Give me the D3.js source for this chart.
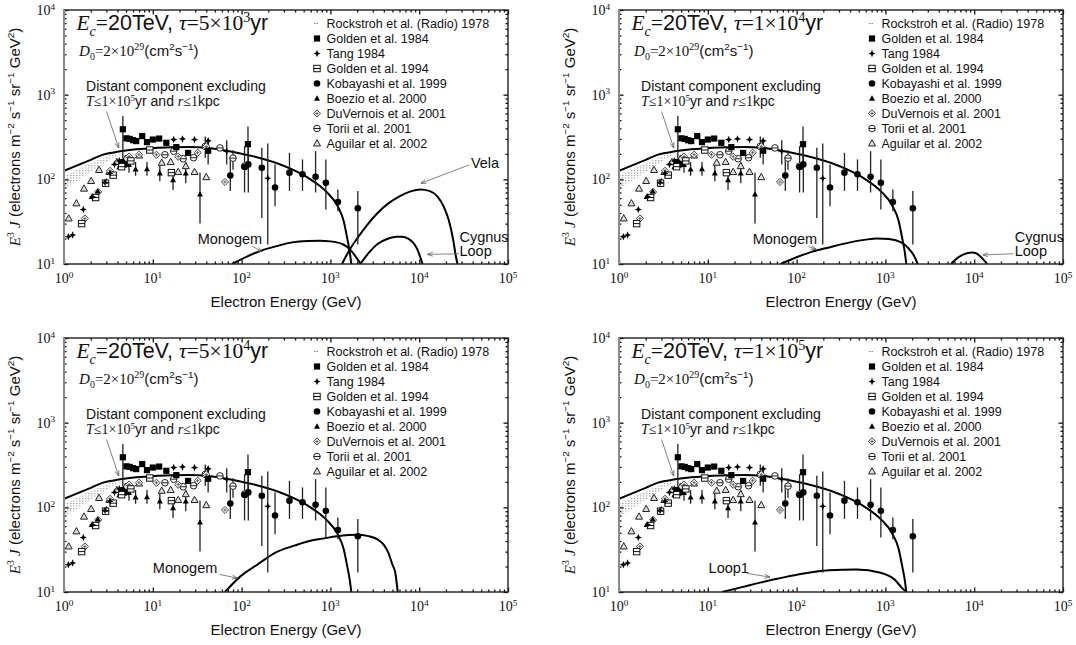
<!DOCTYPE html>
<html>
<head>
<meta charset="utf-8">
<script src="https://cdn.jsdelivr.net/npm/d3@7"></script>
<style>
  body { margin: 0; background: #fff; }
  svg text { font-family: "Liberation Sans", Arial, sans-serif; fill: #111; }
</style>
</head>
<body>
<svg id="chart" width="1076" height="645"></svg>
<script>
var SANS = '"Liberation Sans", Arial, sans-serif';
var SERIF = '"Liberation Serif", "Times New Roman", serif';

// axis decades
var xDecades = [1, 10, 100, 1000, 10000, 100000];
var yDecades = [10, 100, 1000, 10000];

// distant component (same in every panel)
var distantE = [1, 1.5, 2, 2.76, 4.3, 6.5, 10.5, 16, 25.6, 40, 62.5, 100, 152, 250, 371, 579, 905, 1183, 1413, 1549, 1650, 1720];
var distantF = [126, 150, 170, 196, 214, 226, 235, 239, 241, 236, 220, 200, 181, 155, 131, 102, 71, 50, 32, 20, 14, 10];

// Rockstroh radio band
var rockE  = [1, 1.5, 2, 2.5, 3, 3.5, 4];
var rockLo = [75, 100, 122, 142, 160, 177, 192];
var rockHi = [110, 135, 155, 172, 186, 198, 207];

// observations [E, F, lo, hi]
var golden84 = [[4.6, 390, 175, 560], [5.05, 305], [5.5, 300], [6.0, 290], [6.5, 283], [7.6, 324], [8.6, 275],
  [10, 295], [11.8, 303], [14.2, 270], [18.4, 240], [25, 205], [42, 218, 150, 300], [118, 260, 130, 420]];
var tang84 = [[1.12, 21], [1.25, 22], [1.65, 44], [2.1, 62], [2.9, 92], [3.3, 118], [3.7, 150], [4.2, 165],
  [17.2, 295], [21.6, 300], [29.5, 295], [42, 285], [68, 215, 150, 290], [197, 103, 17, 265]];
var golden94 = [[1.58, 30], [2.27, 61], [2.94, 90], [3.58, 112], [4.45, 141], [5.66, 165], [9.25, 222], [16.2, 120]];
var kobayashi99 = [[4.5, 160], [4.9, 150], [74.6, 111, 73, 180], [108, 140, 70, 246], [119, 150, 70, 246],
  [169, 137, 35, 236], [238, 80, 48, 150], [346, 120, 73, 206], [485, 115, 73, 172], [681, 107, 70, 215],
  [889, 91, 44, 172], [1214, 54, 42, 76], [2037, 45.6, 17, 73]];
var boezio00 = [[2.05, 62], [2.4, 72], [3.0, 95], [3.5, 110], [4.2, 140], [5.4, 148, 120, 180], [6.4, 131, 110, 160],
  [8.6, 132, 110, 160], [12, 118, 95, 150], [16.9, 98, 75, 130], [23.5, 118, 90, 160], [34, 66.5, 30, 120]];
var duvernois01 = [[1.72, 34.5], [2.42, 71], [3.3, 126], [5.4, 186], [7.0, 195], [11, 195], [19.3, 185], [32, 206], [40, 245], [65, 93]];
var torii01 = [[13.7, 195], [17.2, 215], [22, 175], [28.8, 180], [39, 245, 180, 320], [57, 235], [80, 178, 130, 220], [108, 143]];
var aguilar02 = [[1.13, 34.5], [1.38, 52], [1.68, 77.6], [2.02, 95.5], [2.48, 129], [3.24, 122], [3.95, 160], [4.93, 175],
  [7.0, 191], [12.6, 157], [15.9, 160], [19.3, 122], [23.5, 143], [29.5, 122], [40, 106]];

var legendNames = ["Rockstroh et al. (Radio) 1978", "Golden et al. 1984", "Tang 1984", "Golden et al. 1994",
  "Kobayashi et al. 1999", "Boezio et al. 2000", "DuVernois et al. 2001", "Torii et al. 2001", "Aguilar et al. 2002"];
var legendSymbols = ["dash", "square", "star", "sqline", "circle", "tri", "diamond", "cirline", "otri"];

// nearby sources per panel
var velaE1 = [1350, 1600, 2000, 2600, 3400, 4500, 6000, 8000, 10300, 13000, 16000, 19000, 21500, 24000, 26000, 27000];
var velaF1 = [10, 14, 20, 29, 40, 52, 63, 72, 76, 73, 63, 47, 33, 20, 12, 10];
var monoE1 = [78, 110, 167, 250, 370, 550, 760, 1000, 1400, 1700, 1950, 2200];
var monoF1 = [10, 12, 14.4, 16.3, 18, 18.7, 18.8, 18.5, 17, 14.5, 12, 10];
var cygE1 = [2170, 2700, 3400, 4500, 5500, 6400, 7500, 8500, 9500, 10300, 10900];
var cygF1 = [10, 13.5, 17.2, 20, 21, 21, 20, 18, 15, 12, 10];
var monoE2 = [66, 100, 150, 231, 400, 600, 807, 1100, 1507, 1800, 2100, 2313];
var monoF2 = [10, 12, 14, 15.7, 18, 19.4, 20, 19.7, 18, 15.5, 12.5, 10];
var cygE2 = [5500, 6500, 7500, 8500, 9400, 10500, 12000, 14000];
var cygF2 = [10, 11.8, 12.9, 13.5, 13.7, 13.4, 12, 10];
var monoE3 = [65, 97.6, 150, 238, 400, 579, 850, 1183, 1600, 2018, 2600, 3444, 4000, 4500, 5000, 5380, 5730];
var monoF3 = [10, 15.4, 21, 29, 35.5, 40, 43, 45.5, 47, 47.5, 46, 41.5, 36, 29, 21, 16.9, 10];
var loopE4 = [14.5, 25, 38.8, 60, 104, 231, 472, 883, 1260, 1535, 1723];
var loopF4 = [10, 11.5, 12.9, 14.3, 16.1, 18.1, 18.5, 16.9, 14.1, 11.2, 10];

var panelTau = [["5", "3"], ["1", "4"], ["5", "4"], ["1", "5"]];
var panelLeft = [64, 619, 64, 619];
var panelTop = [10, 10, 338, 338];

var panelSources = [
  [ {E: velaE1, F: velaF1}, {E: monoE1, F: monoF1}, {E: cygE1, F: cygF1} ],
  [ {E: monoE2, F: monoF2}, {E: cygE2, F: cygF2} ],
  [ {E: monoE3, F: monoF3} ],
  [ {E: loopE4, F: loopF4} ]
];
// labels: [text lines, textE, textF, arrowFromE, arrowFromF, arrowToE, arrowToF]
var panelLabels = [
  [ [["Vela"], 38200, 137, 36500, 148, 10500, 90],
    [["Monogem"], 32, 17.2, 133, 16.1, 169, 14],
    [["Cygnus", "Loop"], 28400, 18, 28000, 13.2, 12500, 13] ],
  [ [["Monogem"], 32, 17.2, 135, 16.1, 165, 15],
    [["Cygnus", "Loop"], 28600, 18, 27400, 13.2, 12600, 12.8] ],
  [ [["Monogem"], 10, 16.9, 57, 16.1, 89, 14.6] ],
  [ [["Loop1"], 10.2, 16.9, 27.7, 16.6, 49.8, 15] ]
];

var W = 444, H = 254;
var svg = d3.select("#chart");
var defs = svg.append("defs");

var pat = defs.append("pattern").attr("id", "dots").attr("patternUnits", "userSpaceOnUse")
  .attr("width", 3).attr("height", 2.5);
pat.append("rect").attr("width", 1.4).attr("height", 1).attr("fill", "#9a9a9a");

defs.append("marker").attr("id", "arr").attr("viewBox", "0 0 10 10").attr("refX", 9).attr("refY", 5)
  .attr("markerWidth", 7).attr("markerHeight", 7).attr("orient", "auto")
  .append("path").attr("d", "M0,1.5 L10,5 L0,8.5").attr("fill", "none").attr("stroke", "#555").attr("stroke-width", 1.3);

// rich text: parts = [text, font ('s' sans, 'r' serif, 'i' italic serif), pos (1 sup, -1 sub)]
function rich(g, x, y, size, parts, anchor) {
  var t = g.append("text").attr("x", x).attr("y", y).attr("font-size", size);
  if (anchor) t.attr("text-anchor", anchor);
  var cur = 0;
  parts.forEach(function(p) {
    var f = p[1] || "s", pos = p[2] || 0;
    var off = pos === 1 ? -0.38 * size : pos === -1 ? 0.28 * size : 0;
    var ts = t.append("tspan").attr("dy", off - cur).text(p[0]);
    cur = off;
    ts.attr("font-family", f === "s" ? SANS : SERIF);
    if (f === "i") ts.attr("font-style", "italic");
    if (pos) ts.attr("font-size", size * 0.66);
  });
  return t;
}

function drawSymbol(g, type, cx, cy) {
  var s = g.append("g").attr("transform", "translate(" + cx + "," + cy + ")");
  if (type === "square") {
    s.append("rect").attr("x", -3.1).attr("y", -3.1).attr("width", 6.2).attr("height", 6.2).attr("fill", "#000");
  } else if (type === "star") {
    s.append("path").attr("d", "M0,-3.8 L1.1,-1.1 L3.6,0 L1.1,1.1 L0,3.8 L-1.1,1.1 L-3.6,0 L-1.1,-1.1 Z").attr("fill", "#000");
  } else if (type === "sqline") {
    s.append("rect").attr("x", -3.2).attr("y", -3.2).attr("width", 6.4).attr("height", 6.4)
      .attr("fill", "#fff").attr("stroke", "#111").attr("stroke-width", 1);
    s.append("line").attr("x1", -3.2).attr("x2", 3.2).attr("stroke", "#111").attr("stroke-width", 1);
  } else if (type === "circle") {
    s.append("circle").attr("r", 3.3).attr("fill", "#000");
  } else if (type === "tri") {
    s.append("path").attr("d", "M0,-3.2 L3,2.2 L-3,2.2 Z").attr("fill", "#000");
  } else if (type === "diamond") {
    s.append("path").attr("d", "M0,-3.6 L3.6,0 L0,3.6 L-3.6,0 Z").attr("fill", "#fff")
      .attr("stroke", "#444").attr("stroke-width", 1);
    s.append("path").attr("d", "M-1.7,0 L1.7,0 M0,-1.7 L0,1.7").attr("stroke", "#555").attr("stroke-width", 0.9);
  } else if (type === "cirline") {
    s.append("circle").attr("r", 3.3).attr("fill", "#fff").attr("stroke", "#222").attr("stroke-width", 1);
    s.append("line").attr("x1", -3.3).attr("x2", 3.3).attr("stroke", "#222").attr("stroke-width", 1);
  } else if (type === "otri") {
    s.append("path").attr("d", "M0,-3.8 L3.5,2.5 L-3.5,2.5 Z").attr("fill", "#ddd").attr("stroke", "#222").attr("stroke-width", 1);
  } else if (type === "dash") {
    s.append("line").attr("x1", -3).attr("x2", 2).attr("stroke", "#888").attr("stroke-width", 1)
      .attr("stroke-dasharray", "1.5,1");
  }
}

var obsSets = [
  [golden84, "square"], [tang84, "star"], [golden94, "sqline"], [kobayashi99, "circle"],
  [boezio00, "tri"], [duvernois01, "diamond"], [torii01, "cirline"], [aguilar02, "otri"]
];

panelTau.forEach(function(tau, pi) {
  var g = svg.append("g").attr("transform", "translate(" + panelLeft[pi] + "," + panelTop[pi] + ")");
  var x = d3.scaleLog().domain([1, 1e5]).range([0, W]);
  var y = d3.scaleLog().domain([10, 1e4]).range([H, 0]);

  defs.append("clipPath").attr("id", "clip" + pi).append("rect").attr("width", W).attr("height", H);
  var plot = g.append("g").attr("clip-path", "url(#clip" + pi + ")");

  // Rockstroh band
  var band = d3.area().x(function(d, i) { return x(rockE[i]); })
    .y0(function(d, i) { return y(rockLo[i]); }).y1(function(d, i) { return y(rockHi[i]); })
    .curve(d3.curveMonotoneX);
  plot.append("path").datum(rockE).attr("d", band).attr("fill", "url(#dots)");

  // curves
  var line = d3.line().x(function(d) { return x(d[0]); }).y(function(d) { return y(d[1]); })
    .curve(d3.curveMonotoneX);
  var curves = [{E: distantE, F: distantF}].concat(panelSources[pi]);
  curves.forEach(function(c) {
    plot.append("path").datum(d3.zip(c.E, c.F)).attr("d", line)
      .attr("fill", "none").attr("stroke", "#000").attr("stroke-width", 2);
  });

  // observations
  obsSets.forEach(function(set) {
    set[0].forEach(function(d) {
      if (d.length > 2) {
        plot.append("line").attr("x1", x(d[0])).attr("x2", x(d[0]))
          .attr("y1", y(d[2])).attr("y2", y(d[3])).attr("stroke", "#222").attr("stroke-width", 1.3);
      }
    });
  });
  obsSets.slice().reverse().forEach(function(set) {
    set[0].forEach(function(d) { drawSymbol(plot, set[1], x(d[0]), y(d[1])); });
  });

  // frame and ticks
  var minorX = x.ticks().filter(function(v) { return xDecades.indexOf(v) < 0; });
  var minorY = y.ticks().filter(function(v) { return yDecades.indexOf(v) < 0; });
  function tickAxis(axis, vals, len, tr) {
    var a = g.append("g").attr("transform", tr)
      .call(axis.tickValues(vals).tickSizeInner(-len).tickSizeOuter(0).tickFormat(""));
    a.select(".domain").remove();
    a.selectAll("line").attr("stroke", "#111").attr("stroke-width", 1.3);
    return a;
  }
  tickAxis(d3.axisBottom(x), xDecades, 4.5, "translate(0," + H + ")");
  tickAxis(d3.axisBottom(x), minorX, 2.5, "translate(0," + H + ")");
  tickAxis(d3.axisTop(x), xDecades, 4.5, "translate(0,0)");
  tickAxis(d3.axisTop(x), minorX, 2.5, "translate(0,0)");
  tickAxis(d3.axisLeft(y), yDecades, 4.5, "translate(0,0)");
  tickAxis(d3.axisLeft(y), minorY, 2.5, "translate(0,0)");
  tickAxis(d3.axisRight(y), yDecades, 4.5, "translate(" + W + ",0)");
  tickAxis(d3.axisRight(y), minorY, 2.5, "translate(" + W + ",0)");
  g.append("rect").attr("width", W).attr("height", H).attr("fill", "none")
    .attr("stroke", "#222").attr("stroke-width", 1.4);
  g.append("line").attr("y1", 0).attr("y2", H).attr("stroke", "#8a8a8a").attr("stroke-width", 2);

  // tick labels
  xDecades.forEach(function(v, i) {
    rich(g, x(v), H + 19, 14, [["10", "r"], [String(i), "r", 1]], "middle");
  });
  yDecades.forEach(function(v, i) {
    rich(g, -9, y(v) + 5, 14, [["10", "r"], [String(i + 1), "r", 1]], "end");
  });

  // axis titles
  g.append("text").attr("x", W / 2).attr("y", H + 43).attr("text-anchor", "middle")
    .attr("font-size", 15).text("Electron Energy (GeV)");
  var yl = g.append("g").attr("transform", "translate(-44," + (H / 2) + ") rotate(-90)");
  rich(yl, 0, 0, 15, [["E", "i"], ["3", "r", 1], [" ", "s"], ["J", "i"], [" (electrons m", "s"], ["\u22122", "s", 1],
    [" s", "s"], ["\u22121", "s", 1], [" sr", "s"], ["\u22121", "s", 1], [" GeV", "s"], ["2", "s", 1], [")", "s"]], "middle");

  // title block
  rich(g, x(1.38), y(5820), 21.5, [["E", "i"], ["c", "i", -1], ["=", "r"], ["20TeV, ", "s"], ["\u03c4", "i"],
    ["=" + tau[0] + "\u00d710", "r"], [tau[1], "r", 1], ["yr", "s"]]);
  rich(g, x(1.48), y(2877), 15, [["D", "i"], ["0", "r", -1], ["=2\u00d710", "r"], ["29", "r", 1], ["(cm", "s"],
    ["2", "s", 1], ["s", "s"], ["\u22121", "s", 1], [")", "s"]]);

  // distant component note
  rich(g, x(1.77), y(1100), 14, [["Distant component excluding", "s"]]);
  rich(g, x(1.77), y(1100) + 15, 14, [["T", "i"], ["\u22641\u00d710", "r"], ["5", "r", 1], ["yr and ", "s"], ["r", "i"],
    ["\u22641", "r"], ["kpc", "s"]]);
  g.append("line").attr("x1", x(3.02)).attr("y1", y(630)).attr("x2", x(4.12)).attr("y2", y(236))
    .attr("stroke", "#666").attr("stroke-width", 0.8).attr("marker-end", "url(#arr)");

  // source labels
  panelLabels[pi].forEach(function(l) {
    l[0].forEach(function(txt, k) {
      g.append("text").attr("x", x(l[1])).attr("y", y(l[2]) + k * 14).attr("font-size", 14.5).text(txt);
    });
    g.append("line").attr("x1", x(l[3])).attr("y1", y(l[4])).attr("x2", x(l[5])).attr("y2", y(l[6]))
      .attr("stroke", "#666").attr("stroke-width", 0.8).attr("marker-end", "url(#arr)");
  });

  // legend
  legendNames.forEach(function(name, i) {
    var cy = 13.5 + i * 15;
    drawSymbol(g, legendSymbols[i], 253, cy);
    g.append("text").attr("x", 262.5).attr("y", cy + 4.5).attr("font-size", 12.5).text(name);
  });
});
</script>
</body>
</html>
